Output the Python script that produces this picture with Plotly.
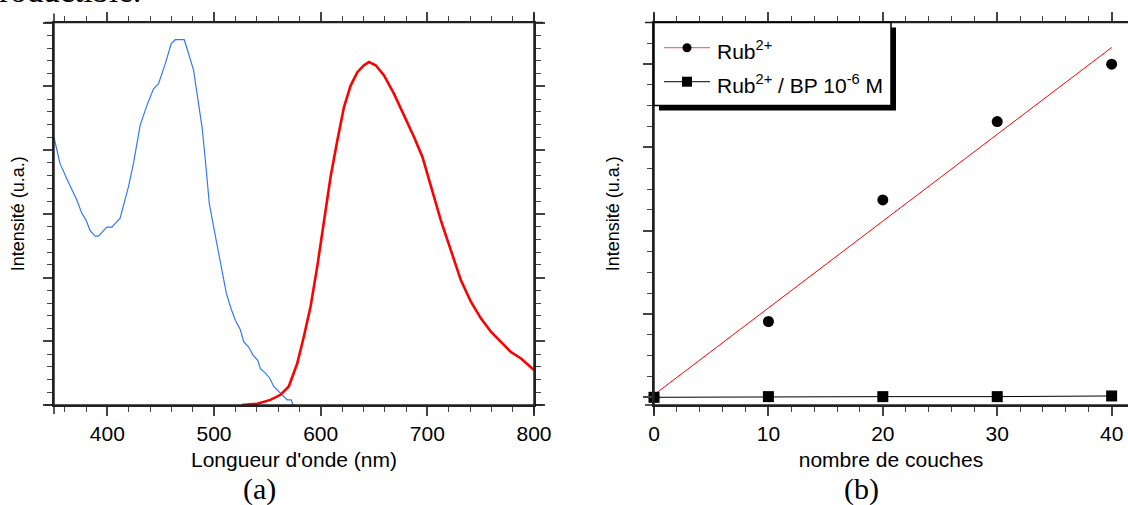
import plotly.graph_objects as go

W, H = 1128, 505

# ---------------- data ----------------
# (a) absorption spectrum (blue)
abs_nm = [350, 355.6, 363.4, 371.3, 376, 380, 383.8, 388.5, 391.6, 399.5, 404.2, 412,
          419.8, 424.5, 430.8, 437.1, 443.3, 448, 454.3, 459.9, 463.7, 472.1, 476.2,
          480.9, 484.6, 488.8, 491.9, 495.6, 499.7, 504.4, 507.6, 511.6, 516, 520,
          524.7, 527.9, 532.5, 536.7, 541, 543.5, 548.2, 552.3, 556, 562.3, 568.6,
          572.3, 574.2]
abs_int = [4.20, 3.79, 3.50, 3.22, 3.01, 2.90, 2.74, 2.65, 2.65, 2.79, 2.79, 2.93,
           3.42, 3.79, 4.39, 4.70, 4.96, 5.04, 5.35, 5.67, 5.73, 5.73, 5.51,
           5.25, 4.83, 4.36, 3.84, 3.16, 2.79, 2.38, 2.06, 1.75, 1.51, 1.33,
           1.18, 0.99, 0.91, 0.78, 0.70, 0.57, 0.50, 0.42, 0.29, 0.18, 0.08,
           0.08, 0.0]

# (a) emission spectrum (red)
em_nm = [526.3, 540.4, 552.9, 562.3, 570.1, 578, 584.2, 590.5, 596.8, 603, 609.3,
         615.6, 621.8, 628.1, 634.4, 640.6, 645.3, 651.6, 659.4, 668.8, 678.2,
         687.6, 695.4, 703.2, 712.6, 722, 731.4, 740.8, 750.2, 759.6, 769, 778.4,
         787.8, 800]
em_int = [0.0, 0.02, 0.08, 0.16, 0.29, 0.65, 1.07, 1.54, 2.17, 2.90, 3.58,
          4.15, 4.67, 5.01, 5.22, 5.33, 5.38, 5.33, 5.17, 4.88, 4.54,
          4.20, 3.89, 3.45, 2.90, 2.43, 1.96, 1.62, 1.36, 1.15, 0.99, 0.83,
          0.73, 0.55]

# (b) intensity vs number of layers
layers = [0, 10, 20, 30, 40]
rub = [0.0, 0.91, 2.37, 3.31, 4.00]
rub_bp = [0.0, 0.008, 0.008, 0.008, 0.016]
fit_x = [0, 40]
fit_y = [0.03, 4.20]

legend_labels = ["Rub<sup>2+</sup>", "Rub<sup>2+</sup> / BP 10<sup>-6</sup> M"]

# ---------------- helpers ----------------
def px(x):
    return x / W

def py(y):
    return 1 - y / H

SANS = "Liberation Sans, Arial, sans-serif"
SERIF = "Liberation Serif, Times New Roman, serif"
LINE = "#222222"
TICK = "#444444"

fig = go.Figure()

fig.add_trace(go.Scatter(x=abs_nm, y=abs_int, mode="lines",
                         line=dict(color="#3377ff", width=1.2),
                         xaxis="x", yaxis="y", showlegend=False))
fig.add_trace(go.Scatter(x=em_nm, y=em_int, mode="lines",
                         line=dict(color="#ff0000", width=2.6),
                         xaxis="x", yaxis="y", showlegend=False))

fig.add_trace(go.Scatter(x=fit_x, y=fit_y, mode="lines",
                         line=dict(color="#ff0000", width=1),
                         xaxis="x2", yaxis="y2", showlegend=False, cliponaxis=False))
fig.add_trace(go.Scatter(x=layers, y=rub, mode="markers",
                         marker=dict(symbol="circle", size=11, color="black"),
                         xaxis="x2", yaxis="y2", showlegend=False, cliponaxis=False))
fig.add_trace(go.Scatter(x=layers, y=rub_bp, mode="lines+markers",
                         line=dict(color="black", width=1),
                         marker=dict(symbol="square", size=11, color="black"),
                         xaxis="x2", yaxis="y2", showlegend=False, cliponaxis=False))

axis_common = dict(
    showline=True, linecolor=LINE, linewidth=1.5, mirror="ticks",
    ticks="outside", ticklen=9, tickwidth=1.5, tickcolor=TICK,
    showgrid=False, zeroline=False, automargin=False,
    tickfont=dict(family=SANS, size=21, color="black"),
)

L0, L1 = 54, 534     # left panel pixel extents
R0, R1 = 654, 1128   # right panel
T, B = 22.5, 405

fig.update_layout(
    width=W, height=H,
    margin=dict(l=0, r=0, t=0, b=0),
    paper_bgcolor="white", plot_bgcolor="white",
    showlegend=False,
    xaxis=dict(axis_common, domain=[px(L0), px(L1)], range=[350, 800],
               tick0=0, dtick=100,
               minor=dict(dtick=20, ticklen=5, tickwidth=1.2, tickcolor=TICK, ticks="outside"),
               title=dict(text="Longueur d'onde (nm)", font=dict(family=SANS, size=21, color="black"),
                          standoff=8),
               anchor="y"),
    yaxis=dict(axis_common, domain=[py(B), py(T)], range=[0, 6],
               tick0=0, dtick=1, showticklabels=False,
               minor=dict(dtick=0.2, ticklen=5, tickwidth=1.2, tickcolor=TICK, ticks="outside"),
               title=dict(text="Intensité (u.a.)", font=dict(family=SANS, size=18, color="black"),
                          standoff=14),
               anchor="x"),
    xaxis2=dict(axis_common, domain=[px(R0), px(R1)], range=[0, 41.43],
                tick0=0, dtick=10,
                minor=dict(dtick=2, ticklen=5, tickwidth=1.2, tickcolor=TICK, ticks="outside"),
                title=dict(text="nombre de couches", font=dict(family=SANS, size=21, color="black"),
                           standoff=8),
                anchor="y2"),
    yaxis2=dict(axis_common, domain=[py(B), py(T)], range=[-0.0925, 4.50],
                tick0=0, dtick=1, showticklabels=False,
                minor=dict(dtick=0.25, ticklen=5, tickwidth=1.2, tickcolor=TICK, ticks="outside"),
                title=dict(text="Intensité (u.a.)", font=dict(family=SANS, size=18, color="black"),
                           standoff=19),
                anchor="x2"),
)

shapes = []
EXT = 9

def pline(x0, y0, x1, y1, color=LINE, width=1.5):
    shapes.append(dict(type="line", xref="paper", yref="paper",
                       x0=px(x0), y0=py(y0), x1=px(x1), y1=py(y1),
                       line=dict(color=color, width=width), layer="above"))

# extended axis frame lines (Igor-style overhang)
pline(L0 - EXT, T, L1 + EXT, T)
pline(L0 - EXT, B, L1 + EXT, B)
pline(L0, T - EXT, L0, B + EXT)
pline(L1, T - EXT, L1, B + EXT)
pline(R0 - EXT, T, R1, T)
pline(R0 - EXT, B, R1, B)
pline(R0, T - EXT, R0, B + EXT)

# manual legend (b) with drop shadow
LX0, LX1, LY0, LY1 = 654, 891, 22.5, 105.5
SH = 5
shapes.append(dict(type="rect", xref="paper", yref="paper",
                   x0=px(LX0 + SH), x1=px(LX1 + SH), y0=py(LY1 + SH), y1=py(LY0 + SH),
                   fillcolor="black", line=dict(width=0), layer="above"))
shapes.append(dict(type="rect", xref="paper", yref="paper",
                   x0=px(LX0), x1=px(LX1), y0=py(LY1), y1=py(LY0),
                   fillcolor="white", line=dict(color="black", width=1.5), layer="above"))
row_y = [47.7, 81.7]
pline(664, row_y[0], 710, row_y[0], color="#ff6a6a", width=1.2)
pline(664, row_y[1], 710, row_y[1], color="#333333", width=1.2)
r = 4.5
shapes.append(dict(type="circle", xref="paper", yref="paper",
                   x0=px(687 - r), x1=px(687 + r), y0=py(row_y[0] + r), y1=py(row_y[0] - r),
                   fillcolor="black", line=dict(width=0), layer="above"))
s = 5
shapes.append(dict(type="rect", xref="paper", yref="paper",
                   x0=px(687 - s), x1=px(687 + s), y0=py(row_y[1] + s), y1=py(row_y[1] - s),
                   fillcolor="black", line=dict(width=0), layer="above"))

fig.update_layout(shapes=shapes)

annotations = []
for lab, yy in zip(legend_labels, [50, 84]):
    annotations.append(dict(text=lab, xref="paper", yref="paper", x=px(715), y=py(yy),
                            xanchor="left", yanchor="middle", showarrow=False,
                            font=dict(family=SANS, size=21, color="black")))
annotations.append(dict(text="(a)", xref="paper", yref="paper", x=px(259), y=py(470),
                        xanchor="center", yanchor="top", showarrow=False,
                        font=dict(family=SERIF, size=30, color="black")))
annotations.append(dict(text="(b)", xref="paper", yref="paper", x=px(861), y=py(470),
                        xanchor="center", yanchor="top", showarrow=False,
                        font=dict(family=SERIF, size=30, color="black")))
annotations.append(dict(text="reproductible.", xref="paper", yref="paper", x=px(143), y=py(11),
                        xanchor="right", yanchor="bottom", showarrow=False,
                        font=dict(family=SERIF, size=33, color="black")))
fig.update_layout(annotations=annotations)

fig.write_html("out.html",
               config={"displayModeBar": False},
               post_script="document.body.style.margin='0';document.body.style.padding='0';"
                           "document.body.style.overflow='hidden';")
